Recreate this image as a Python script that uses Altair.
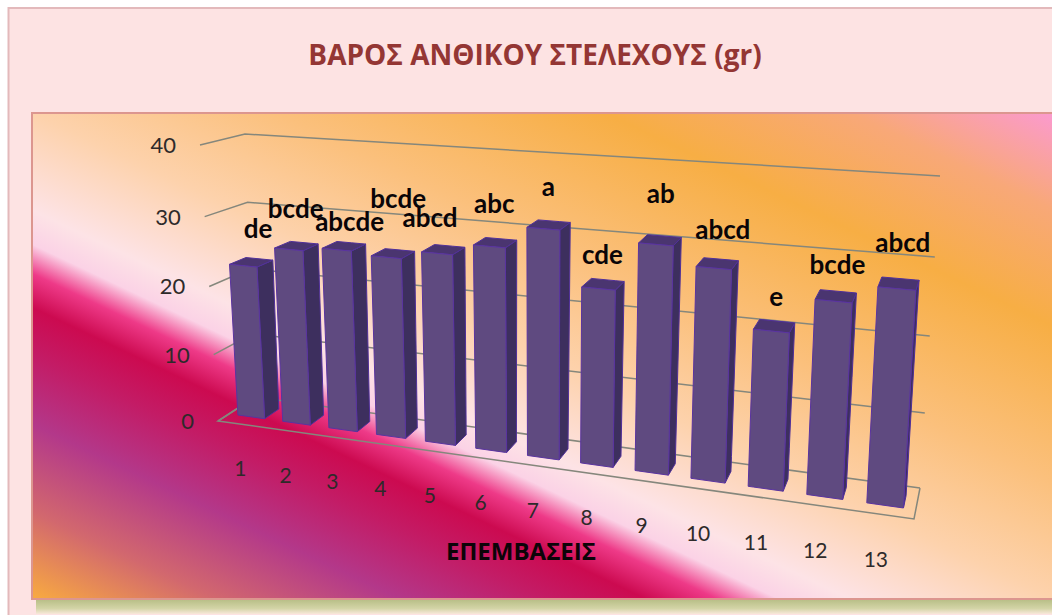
import altair as alt
import pandas as pd

# Flower stem weight per treatment, with the significance letters printed over each bar
treatments = list(range(1, 14))
weights = [22.6, 25.6, 26.2, 25.8, 27.0, 28.6, 31.6, 24.3, 30.8, 28.4, 21.0, 25.6, 27.9]
letters = ["de", "bcde", "abcde", "bcde", "abcd", "abc", "a", "cde", "ab", "abcd", "e", "bcde", "abcd"]
weight_ticks = [0, 10, 20, 30, 40]

TITLE = "ΒΑΡΟΣ ΑΝΘΙΚΟΥ ΣΤΕΛΕΧΟΥΣ (gr)"
X_TITLE = "ΕΠΕΜΒΑΣΕΙΣ"

W, H = 1052, 615
AXIS_MAX = 40

# Box corners of the tilted 3D scene: (front-left, back-left, front-right, back-right)
FLOOR = ((218, 421), (255, 397), (914, 519), (920, 488))
CEILING = ((200, 145), (245, 134), (932, 199), (940, 176))
PERSPECTIVE = 0.83  # spacing of slots grows toward the viewer on the right
BAR_SLOT = (0.2, 0.8)
BAR_DEPTH = (0.3, 0.7)

# Hand-placed offsets of the letter labels from the top of each bar
label_dx = [15, 7, 13, 12, -7, 5, 5, 4, 5, 9, 5, 4, 6]
label_dy = [-36, -39, -27, -57, -34, -41, -41, -33, -49, -37, -33, -35, -45]


def lerp(a, b, t):
    return a + (b - a) * t


def plane_point(plane, s, d):
    fl, bl, fr, br = plane
    left = (lerp(fl[0], bl[0], d), lerp(fl[1], bl[1], d))
    right = (lerp(fr[0], br[0], d), lerp(fr[1], br[1], d))
    return lerp(left[0], right[0], s), lerp(left[1], right[1], s)


def project(slot, depth, value):
    """Map (category slot, depth 0-1, weight) onto the page."""
    u = slot / len(treatments)
    s = u * (PERSPECTIVE + (1 - PERSPECTIVE) * u)
    h = value / AXIS_MAX
    h = h * (0.95 + 0.05 * h)
    x0, y0 = plane_point(FLOOR, s, depth)
    x1, y1 = plane_point(CEILING, s, depth)
    return lerp(x0, x1, h), lerp(y0, y1, h)


def polygon_rows(poly, key):
    """Turn a convex polygon into x / y / y2 rows for an area mark."""
    rows = []
    n = len(poly)
    for x in sorted({p[0] for p in poly}):
        ys = []
        for i in range(n):
            (xa, ya), (xb, yb) = poly[i], poly[(i + 1) % n]
            if min(xa, xb) <= x <= max(xa, xb):
                if xa == xb:
                    ys += [ya, yb]
                else:
                    ys.append(lerp(ya, yb, (x - xa) / (xb - xa)))
        rows.append({"x": x, "y": min(ys), "y2": max(ys), "key": key})
    return rows


front_rows, side_rows, top_rows, label_rows = [], [], [], []
for i, (v, letter) in enumerate(zip(weights, letters)):
    a, b = i + BAR_SLOT[0], i + BAR_SLOT[1]
    d0, d1 = BAR_DEPTH
    front_rows += polygon_rows(
        [project(a, d0, v), project(b, d0, v), project(b, d0, 0), project(a, d0, 0)], i
    )
    side_rows += polygon_rows(
        [project(b, d0, v), project(b, d1, v), project(b, d1, 0), project(b, d0, 0)], i
    )
    top_rows += polygon_rows(
        [project(a, d0, v), project(a, d1, v), project(b, d1, v), project(b, d0, v)], i
    )
    cx, cy = project(i + 0.5, d0, v)
    label_rows.append({"x": cx + label_dx[i], "y": cy + label_dy[i], "text": letter})

grid_rows = []
for tick in weight_ticks:
    for order, (slot, depth) in enumerate([(0, 0), (0, 1), (len(treatments), 1)]):
        px, py = project(slot, depth, tick)
        grid_rows.append({"x": px, "y": py, "key": tick, "order": order})

floor_rows = []
for order, (slot, depth) in enumerate(
    [(0, 1), (0, 0), (len(treatments), 0), (len(treatments), 1)]
):
    px, py = project(slot, depth, 0)
    floor_rows.append({"x": px, "y": py, "order": order})

y_label_rows = []
for tick in weight_ticks:
    px, py = project(0, 0, tick)
    y_label_rows.append({"x": px - 24, "y": py + 1, "text": str(tick)})

x_label_rows = []
for i, t in enumerate(treatments):
    px, py = project(i + 0.5, 0, 0)
    x_label_rows.append(
        {"x": px - 7 * i / (len(treatments) - 1), "y": py + 46, "text": str(t)}
    )

x_scale = alt.Scale(domain=[0, W], nice=False, zero=False)
y_scale = alt.Scale(domain=[H, 0], nice=False, zero=False)
X = alt.X("x:Q", scale=x_scale, axis=None)
Y = alt.Y("y:Q", scale=y_scale, axis=None)


def box(x, x2, y, y2, **mark):
    row = pd.DataFrame([{"x": x, "x2": x2, "y": y, "y2": y2}])
    return alt.Chart(row).mark_rect(**mark).encode(
        x=X, x2=alt.X2("x2:Q"), y=Y, y2=alt.Y2("y2:Q")
    )


def stops(pairs):
    return [alt.GradientStop(offset=o, color=c) for o, c in pairs]


panel_fill = alt.LinearGradient(
    gradient="linear",
    x1=0, y1=1, x2=1, y2=0,
    stops=stops([
        (0.00, "#f9ab40"),
        (0.09, "#d2686e"),
        (0.18, "#b3388a"),
        (0.25, "#c31c66"),
        (0.30, "#cc0a50"),
        (0.335, "#ee3a88"),
        (0.365, "#fbd2e6"),
        (0.40, "#fde3e6"),
        (0.50, "#fdd2ac"),
        (0.62, "#fbc07c"),
        (0.78, "#f7ae44"),
        (0.90, "#f8a878"),
        (1.00, "#fb9ad0"),
    ]),
)
shadow_fill = alt.LinearGradient(
    gradient="linear",
    x1=0, y1=0, x2=0, y2=1,
    stops=stops([(0, "#b9bf88"), (0.6, "#d3d4a6"), (1, "#f8e8da")]),
)

background = [
    box(8.5, W + 5, 8, H + 5, fill="#fde3e3", stroke="#e3b9bb", strokeWidth=2),
    box(36, W, 600, 614, fill=shadow_fill),
    box(32, W + 3, 113, 599, fill=panel_fill, stroke="#dc968f", strokeWidth=2),
]

grid = alt.Chart(pd.DataFrame(grid_rows)).mark_line(
    color="#85877c", strokeWidth=1.5
).encode(x=X, y=Y, detail="key:N", order="order:Q")

floor = alt.Chart(pd.DataFrame(floor_rows)).mark_line(
    color="#85877c", strokeWidth=1.5
).encode(x=X, y=Y, order="order:Q")


def faces(rows, fill, stroke):
    return alt.Chart(pd.DataFrame(rows)).mark_area(
        fill=fill, stroke=stroke, strokeWidth=1, opacity=1
    ).encode(x=X, y=Y, y2=alt.Y2("y2:Q"), detail="key:N")


sides = faces(side_rows, "#3d2f5e", "#50309a")
tops = faces(top_rows, "#4a3570", "#50309a")
fronts = faces(front_rows, "#5f4a80", "#5a34a0")


def labels(rows, align="center", **mark):
    return alt.Chart(pd.DataFrame(rows)).mark_text(
        baseline="middle", align=align, **mark
    ).encode(x=X, y=Y, text="text:N")


title = labels(
    [{"x": 535, "y": 57, "text": TITLE}],
    font="Open Sans", fontSize=28, fontWeight="bold", color="#943634",
)
x_title = labels(
    [{"x": 521, "y": 553, "text": X_TITLE}],
    font="Open Sans", fontSize=24, fontWeight="bold", color="#0c0408",
)
y_labels = labels(y_label_rows, align="right", font="Lato", fontSize=22, color="#2e2a2a")
x_labels = labels(x_label_rows, font="Lato", fontSize=21, color="#2e2a2a")
letter_labels = labels(label_rows, font="Lato", fontSize=26, fontWeight="bold", color="#0a0508")

chart = alt.layer(
    *background, grid, floor, sides, tops, fronts,
    y_labels, x_labels, letter_labels, title, x_title,
).properties(
    width=W, height=H, padding=0,
    autosize=alt.AutoSizeParams(type="none"),
    background="#ffffff",
).configure_view(stroke=None)

chart.save("out.html", embed_options={"renderer": "svg", "actions": False})
